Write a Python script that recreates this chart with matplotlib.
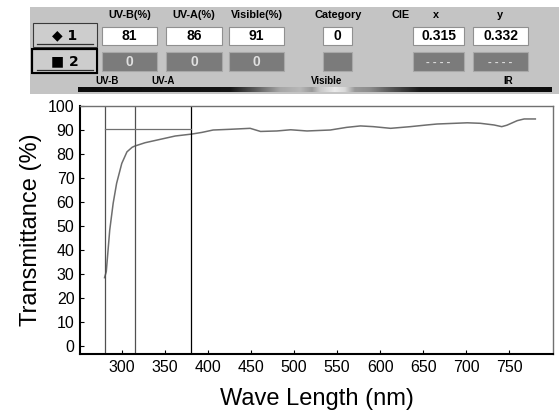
import matplotlib
matplotlib.use('Agg')
import matplotlib.pyplot as plt
import numpy as np
from matplotlib.patches import Rectangle

plt.rcParams['font.family'] = ['Liberation Sans', 'DejaVu Sans']

# transmittance curve
wave = [280, 282, 286, 290, 294, 300, 306, 312, 315, 327, 347, 362, 381, 393,
        406, 426, 449, 461, 480, 496, 515, 542, 561, 577, 592, 612, 635, 654,
        666, 701, 716, 732, 741, 747, 759, 767, 780]
trans = [28.5, 31, 48.3, 59.5, 67.8, 76.1, 80.9, 82.8, 83.3, 84.7, 86.3, 87.5,
         88.3, 89.0, 90.0, 90.3, 90.7, 89.4, 89.6, 90.1, 89.6, 90.0, 91.1, 91.7,
         91.4, 90.7, 91.4, 92.1, 92.5, 93.0, 92.8, 92.1, 91.4, 92.0, 93.9, 94.6,
         94.6]

# band limits (UV-B / UV-A / visible) and visible mean line
band_edges = [280, 315, 380]
visible_level = 90.4

# header panel values
col_names = ['UV-B(%)', 'UV-A(%)', 'Visible(%)']
row1_vals = ['81', '86', '91']
row2_vals = ['0', '0', '0']
category1 = '0'
cie_x = '0.315'
cie_y = '0.332'

xticks = [300, 350, 400, 450, 500, 550, 600, 650, 700, 750]
yticks = [0, 10, 20, 30, 40, 50, 60, 70, 80, 90, 100]

W, H = 559, 416
fig = plt.figure(figsize=(W / 100, H / 100), dpi=100)
fig.patch.set_facecolor('white')

# ---- header panel drawn in pixel coordinates ----
hd = fig.add_axes([0, 0, 1, 1])
hd.axis('off')

hd.add_patch(Rectangle((30, 7), 529, 87, facecolor='#c4c4c4', edgecolor='none'))

def box(x0, x1, y0, y1, fc, ec):
    hd.add_patch(Rectangle((x0, y0), x1 - x0, y1 - y0, facecolor=fc,
                           edgecolor=ec, linewidth=0.8))

# buttons
box(33, 97, 23, 47, '#cdcdcd', '#3a3a3a')
hd.plot([37, 93], [44, 44], color='#303030', lw=0.9)
hd.text(65, 35.5, '\u25c6 1', ha='center', va='center', fontsize=10,
        fontweight='bold', family=['DejaVu Sans'])
box(32, 97, 49, 73, '#cdcdcd', 'black')
hd.add_patch(Rectangle((32, 49), 65, 24, facecolor='none', edgecolor='black', lw=1.5))
hd.plot([37, 93], [70, 70], color='#303030', lw=0.9)
hd.text(65, 61, '\u25a0 2', ha='center', va='center', fontsize=10,
        fontweight='bold', family=['DejaVu Sans'])

cols = [(102, 157), (166, 222), (229, 284)]
for (x0, x1), name, v1, v2 in zip(cols, col_names, row1_vals, row2_vals):
    hd.text((x0 + x1) / 2, 15, name, ha='center', va='center', fontsize=7.8,
            fontweight='bold')
    box(x0, x1, 27, 45, 'white', '#909090')
    hd.text((x0 + x1) / 2, 36.5, v1, ha='center', va='center', fontsize=10,
            fontweight='bold')
    box(x0, x1, 52, 71, '#7b7b7b', '#a8a8a8')
    hd.text((x0 + x1) / 2, 62, v2, ha='center', va='center', fontsize=10,
            fontweight='bold', color='#e0e0e0')

hd.text(338, 15, 'Category', ha='center', va='center', fontsize=7.8, fontweight='bold')
box(323, 352, 27, 45, 'white', '#909090')
hd.text(337.5, 36.5, category1, ha='center', va='center', fontsize=10, fontweight='bold')
box(323, 352, 52, 71, '#7b7b7b', '#a8a8a8')

hd.text(401, 15, 'CIE', ha='center', va='center', fontsize=7.8, fontweight='bold')
hd.text(436, 15, 'x', ha='center', va='center', fontsize=7.8, fontweight='bold')
hd.text(500, 15, 'y', ha='center', va='center', fontsize=7.8, fontweight='bold')
for (x0, x1), v in zip([(413, 464), (473, 528)], [cie_x, cie_y]):
    box(x0, x1, 27, 45, 'white', '#909090')
    hd.text((x0 + x1) / 2, 36.5, v, ha='center', va='center', fontsize=10,
            fontweight='bold')
    box(x0, x1, 52, 71, '#7b7b7b', '#a8a8a8')
    hd.text((x0 + x1) / 2, 62, '- - - -', ha='center', va='center', fontsize=8,
            fontweight='bold', color='#e0e0e0')

for lab, xc in [('UV-B', 107), ('UV-A', 163), ('Visible', 327), ('IR', 508)]:
    hd.text(xc, 81.5, lab, ha='center', va='center', fontsize=7, fontweight='bold')

# spectrum strip
px = np.arange(78, 553)
prof = np.interp(px, [78, 230, 255, 280, 300, 312, 320, 335, 345, 355, 370, 390, 420, 552],
                 [0.05, 0.08, 0.35, 0.65, 0.72, 0.6, 0.78, 0.92, 0.85, 0.6, 0.55, 0.35, 0.1, 0.05])
hd.imshow(prof[None, :], cmap='gray', vmin=0, vmax=1, aspect='auto',
          extent=(78, 552, 92, 87), interpolation='bilinear', zorder=5)
hd.set_xlim(0, W)
hd.set_ylim(H, 0)

# ---- main plot ----
ax = fig.add_axes([80 / W, 62 / H, (553 - 80) / W, (354 - 106) / H])
ax.plot(wave, trans, color='#6e6e6e', lw=1.1)
for i, e in enumerate(band_edges):
    ax.axvline(e, color='black' if i == 2 else '#505050', lw=0.9)
ax.plot([band_edges[0], band_edges[2]], [visible_level, visible_level],
        color='#707070', lw=0.9)

ax.set_xlim(251.5, 800.5)
ax.set_ylim(-3.3, 100)
ax.set_xticks(xticks)
ax.set_yticks(yticks)
ax.tick_params(direction='in', length=3, labelsize=11.5, pad=4)
for s in ['left', 'bottom']:
    ax.spines[s].set_linewidth(1.5)
    ax.spines[s].set_color('black')
for s in ['top', 'right']:
    ax.spines[s].set_linewidth(1.0)
    ax.spines[s].set_color('#707070')
ax.set_xlabel('Wave Length (nm)', fontsize=17, labelpad=10)
ax.set_ylabel('Transmittance (%)', fontsize=17, labelpad=4)

fig.savefig('out.png', dpi=100)
